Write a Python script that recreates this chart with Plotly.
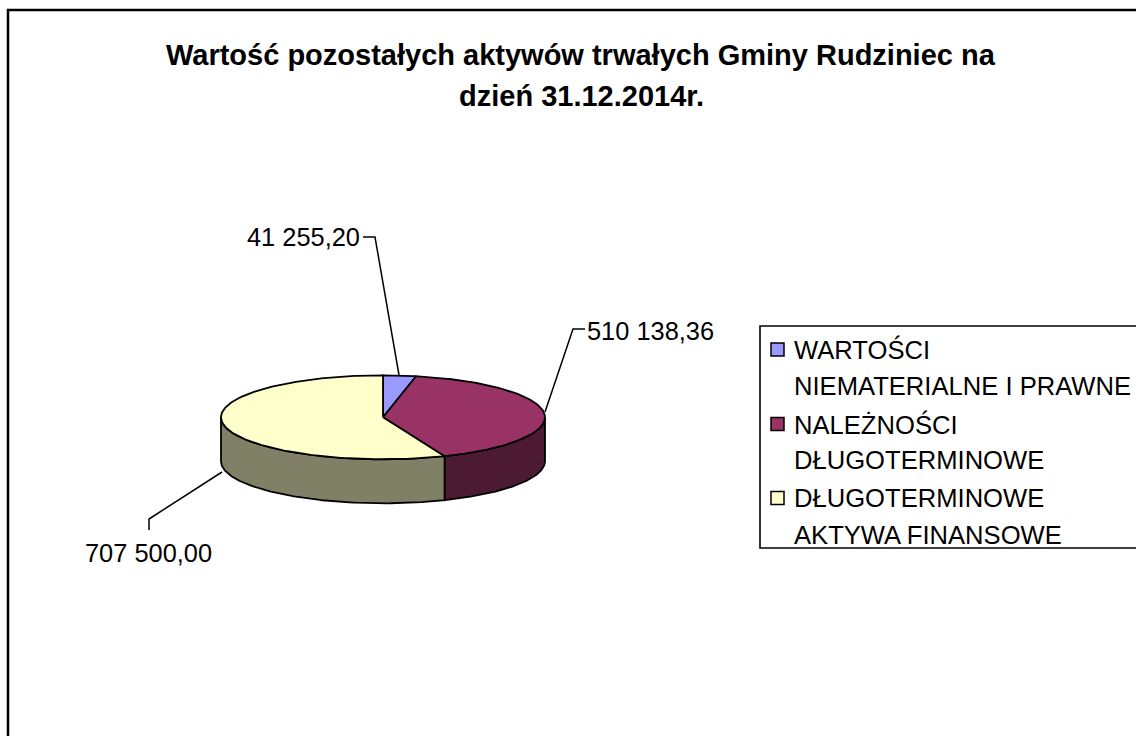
import numpy as np
import plotly.graph_objects as go

TITLE_LINES = ["Wartość pozostałych aktywów trwałych Gminy Rudziniec na", "dzień 31.12.2014r."]
categories = ["WARTOŚCI NIEMATERIALNE I PRAWNE", "NALEŻNOŚCI DŁUGOTERMINOWE", "DŁUGOTERMINOWE AKTYWA FINANSOWE"]
legend_lines = [["WARTOŚCI", "NIEMATERIALNE I PRAWNE"], ["NALEŻNOŚCI", "DŁUGOTERMINOWE"], ["DŁUGOTERMINOWE", "AKTYWA FINANSOWE"]]
values = [41255.20, 510138.36, 707500.00]
value_labels = ["41 255,20", "510 138,36", "707 500,00"]
top_colors = ["#9999FF", "#993366", "#FFFFCC"]
side_colors = ["#4C4C80", "#4D1A33", "#808066"]

FONT = "Liberation Sans"
CX, CY, RX, RY, DEPTH = 383, 417.3, 162, 42, 44
LW = 1.8


def ellipse(a_deg, dy=0.0):
    a = np.radians(a_deg)
    return CX + RX * np.sin(a), CY - RY * np.cos(a) + dy


fig = go.Figure()
edges = np.concatenate([[0], np.cumsum(values) / np.sum(values) * 360])

# front walls
for i in range(len(values)):
    lo, hi = max(edges[i], 90), min(edges[i + 1], 270)
    if hi <= lo:
        continue
    a = np.linspace(lo, hi, 120)
    xt, yt = ellipse(a)
    xb, yb = ellipse(a[::-1], DEPTH)
    fig.add_trace(go.Scatter(x=np.r_[xt, xb, xt[0]], y=np.r_[yt, yb, yt[0]], mode="lines",
                             fill="toself", fillcolor=side_colors[i],
                             line=dict(color="black", width=LW), hoverinfo="skip", showlegend=False))
# top slices
for i in range(len(values)):
    a = np.linspace(edges[i], edges[i + 1], 200)
    xt, yt = ellipse(a)
    fig.add_trace(go.Scatter(x=np.r_[CX, xt, CX], y=np.r_[CY, yt, CY], mode="lines",
                             fill="toself", fillcolor=top_colors[i], name=categories[i],
                             line=dict(color="black", width=LW), showlegend=False,
                             text=value_labels[i], hoverinfo="name+text"))

# leader lines
leaders = [([363, 375, 399], [237, 237, 375]),
           ([585, 573, 545], [329, 329, 412]),
           ([149, 149, 222], [530, 519, 472])]
for lx, ly in leaders:
    fig.add_trace(go.Scatter(x=lx, y=ly, mode="lines", line=dict(color="black", width=1.5),
                             hoverinfo="skip", showlegend=False))

ann = []


def text(x, y, s, size, anchor="left", bold=False):
    ann.append(dict(x=x, y=y, xref="x", yref="y", text=f"<b>{s}</b>" if bold else s, showarrow=False,
                    xanchor=anchor, yanchor="middle", font=dict(family=FONT, size=size, color="black")))


text(581, 55, TITLE_LINES[0], 29, "center", True)
text(581, 96, TITLE_LINES[1], 29, "center", True)
text(362, 237, value_labels[0], 25.4, "right")
text(585, 331, value_labels[1], 25.4, "left")
text(83, 553, value_labels[2], 25.4, "left")

shapes = [
    dict(type="rect", xref="x", yref="y", x0=8, y0=10, x1=1160, y1=760, line=dict(color="black", width=2.5),
         fillcolor="rgba(0,0,0,0)", layer="below"),
    dict(type="rect", xref="x", yref="y", x0=760, y0=326, x1=1160, y1=548, line=dict(color="black", width=1.6),
         fillcolor="white", layer="below"),
]
swatch_y = [349.5, 424, 498]
line_y = [[349, 386], [424, 460], [498, 535]]
for i, lines in enumerate(legend_lines):
    shapes.append(dict(type="rect", xref="x", yref="y", x0=771, x1=784, y0=swatch_y[i] - 6.5, y1=swatch_y[i] + 6.5,
                       fillcolor=top_colors[i], line=dict(color="black", width=1.5)))
    for s, y in zip(lines, line_y[i]):
        text(792, y, s, 25.6)

fig.update_layout(
    width=1136, height=736, autosize=False, margin=dict(l=0, r=0, t=0, b=0),
    paper_bgcolor="white", plot_bgcolor="white", showlegend=False,
    xaxis=dict(range=[0, 1136], visible=False, fixedrange=True),
    yaxis=dict(range=[736, 0], visible=False, fixedrange=True),
    annotations=ann, shapes=shapes,
)
fig.write_html("out.html", config={"displayModeBar": False},
               post_script="document.body.style.margin='0';document.body.style.overflow='hidden';")
